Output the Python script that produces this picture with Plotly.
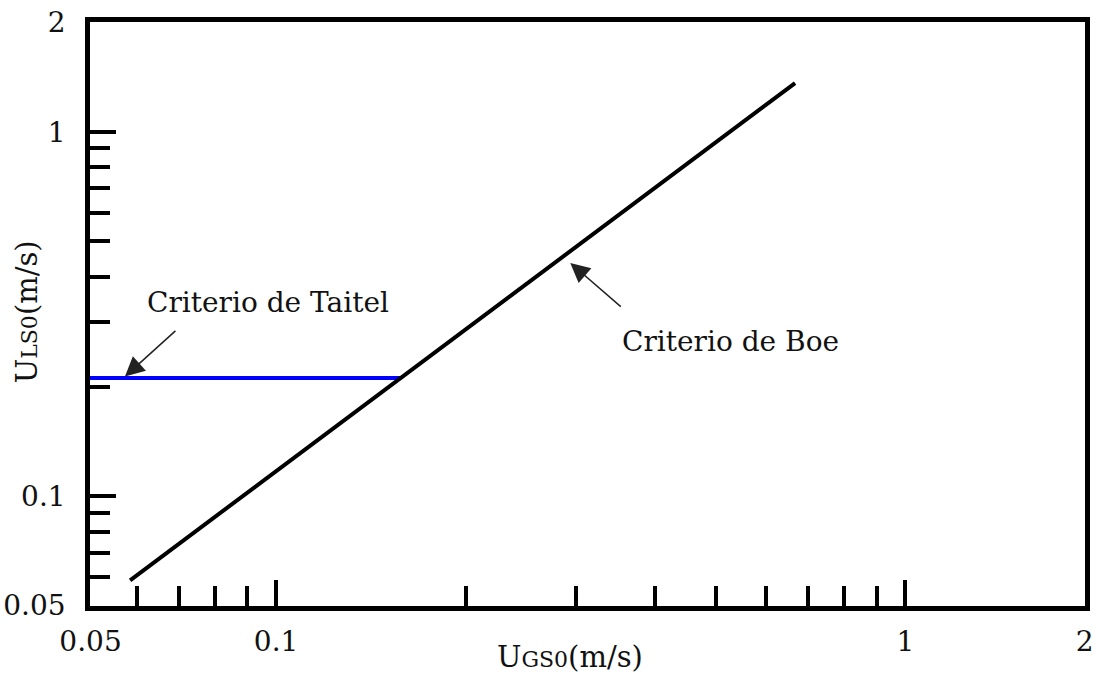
import numpy as np
import plotly.graph_objects as go

# Flow-pattern transition criteria (log-log), superficial velocities in m/s
boe_ugs = [0.0586, 0.668]
boe_uls = [0.0588, 1.36]

taitel_ugs = [0.05, 0.158]
taitel_uls = [0.211, 0.211]

# Axis extents and labels
x_edges = [0.0506, 1.93]
y_edges = [0.05, 2.0]
x_major = [0.0507, 0.1, 1.0, 1.928]
x_major_text = ["0.05", "0.1", "1", "2"]
y_major = [0.0501, 0.1, 1.0, 1.995]
y_major_text = ["0.05", "0.1", "1", "2"]
minor_vals = [0.06, 0.07, 0.08, 0.09, 0.2, 0.3, 0.4, 0.5, 0.6, 0.7, 0.8, 0.9]

# Annotation anchors (arrow tips and label centres)
taitel_tip = (0.0575, 0.213)
boe_tip = (0.2934, 0.4365)
taitel_label = (0.0971, 0.341)
boe_label = (0.527, 0.265)

FONT = "DejaVu Serif"
INK = "#111111"

fig = go.Figure()
fig.add_trace(go.Scatter(x=taitel_ugs, y=taitel_uls, mode="lines",
                         line=dict(color="#0000ff", width=4), showlegend=False))
fig.add_trace(go.Scatter(x=boe_ugs, y=boe_uls, mode="lines",
                         line=dict(color="#000000", width=4), showlegend=False))

axis_common = dict(
    type="log", showgrid=False, zeroline=False, automargin=False,
    showline=True, linecolor="black", linewidth=4.5, mirror=True,
    ticks="inside", ticklen=26, tickwidth=3.5, tickcolor="black",
    tickmode="array", ticklabeloverflow="allow",
    tickfont=dict(family=FONT, size=28, color=INK),
    minor=dict(tickmode="array", tickvals=minor_vals, ticks="inside",
               ticklen=20, tickwidth=3.5, tickcolor="black", showgrid=False),
)

fig.update_xaxes(**axis_common, range=[np.log10(x_edges[0]), np.log10(x_edges[1])],
                 tickvals=x_major, ticktext=x_major_text, ticklabelstandoff=7)
fig.update_yaxes(**axis_common, range=[np.log10(y_edges[0]), np.log10(y_edges[1])],
                 tickvals=y_major, ticktext=y_major_text, ticklabelstandoff=14)

arrow = dict(showarrow=True, arrowhead=2, arrowsize=2.6, arrowwidth=1.5,
             arrowcolor="#222222", text="", xref="x", yref="y")
fig.add_annotation(x=np.log10(taitel_tip[0]), y=np.log10(taitel_tip[1]),
                   ax=52, ay=-47, **arrow)
fig.add_annotation(x=np.log10(boe_tip[0]), y=np.log10(boe_tip[1]),
                   ax=52, ay=45, **arrow)

label_font = dict(family=FONT, size=28, color=INK)
fig.add_annotation(x=np.log10(taitel_label[0]), y=np.log10(taitel_label[1]),
                   xref="x", yref="y", text="Criterio de Taitel",
                   showarrow=False, font=label_font)
fig.add_annotation(x=np.log10(boe_label[0]), y=np.log10(boe_label[1]),
                   xref="x", yref="y", text="Criterio de Boe",
                   showarrow=False, font=label_font)

# Axis titles
title_font = dict(family=FONT, size=29, color=INK)
fig.add_annotation(x=0.482, y=-0.0873, xref="paper", yref="paper",
                   xanchor="center", yanchor="middle",
                   text="U<span style='font-size:22px'>GS0</span>(m/s)",
                   showarrow=False, font=title_font)
fig.add_annotation(x=-0.0633, y=0.503, xref="paper", yref="paper",
                   xanchor="center", yanchor="middle",
                   text="U<span style='font-size:22px'>LS0</span>(m/s)",
                   textangle=-90, showarrow=False, font=title_font)

fig.update_layout(
    width=1093, height=675,
    margin=dict(l=90, r=8, t=22, b=69),
    paper_bgcolor="white", plot_bgcolor="white",
    showlegend=False,
)

fig.write_html("out.html")
